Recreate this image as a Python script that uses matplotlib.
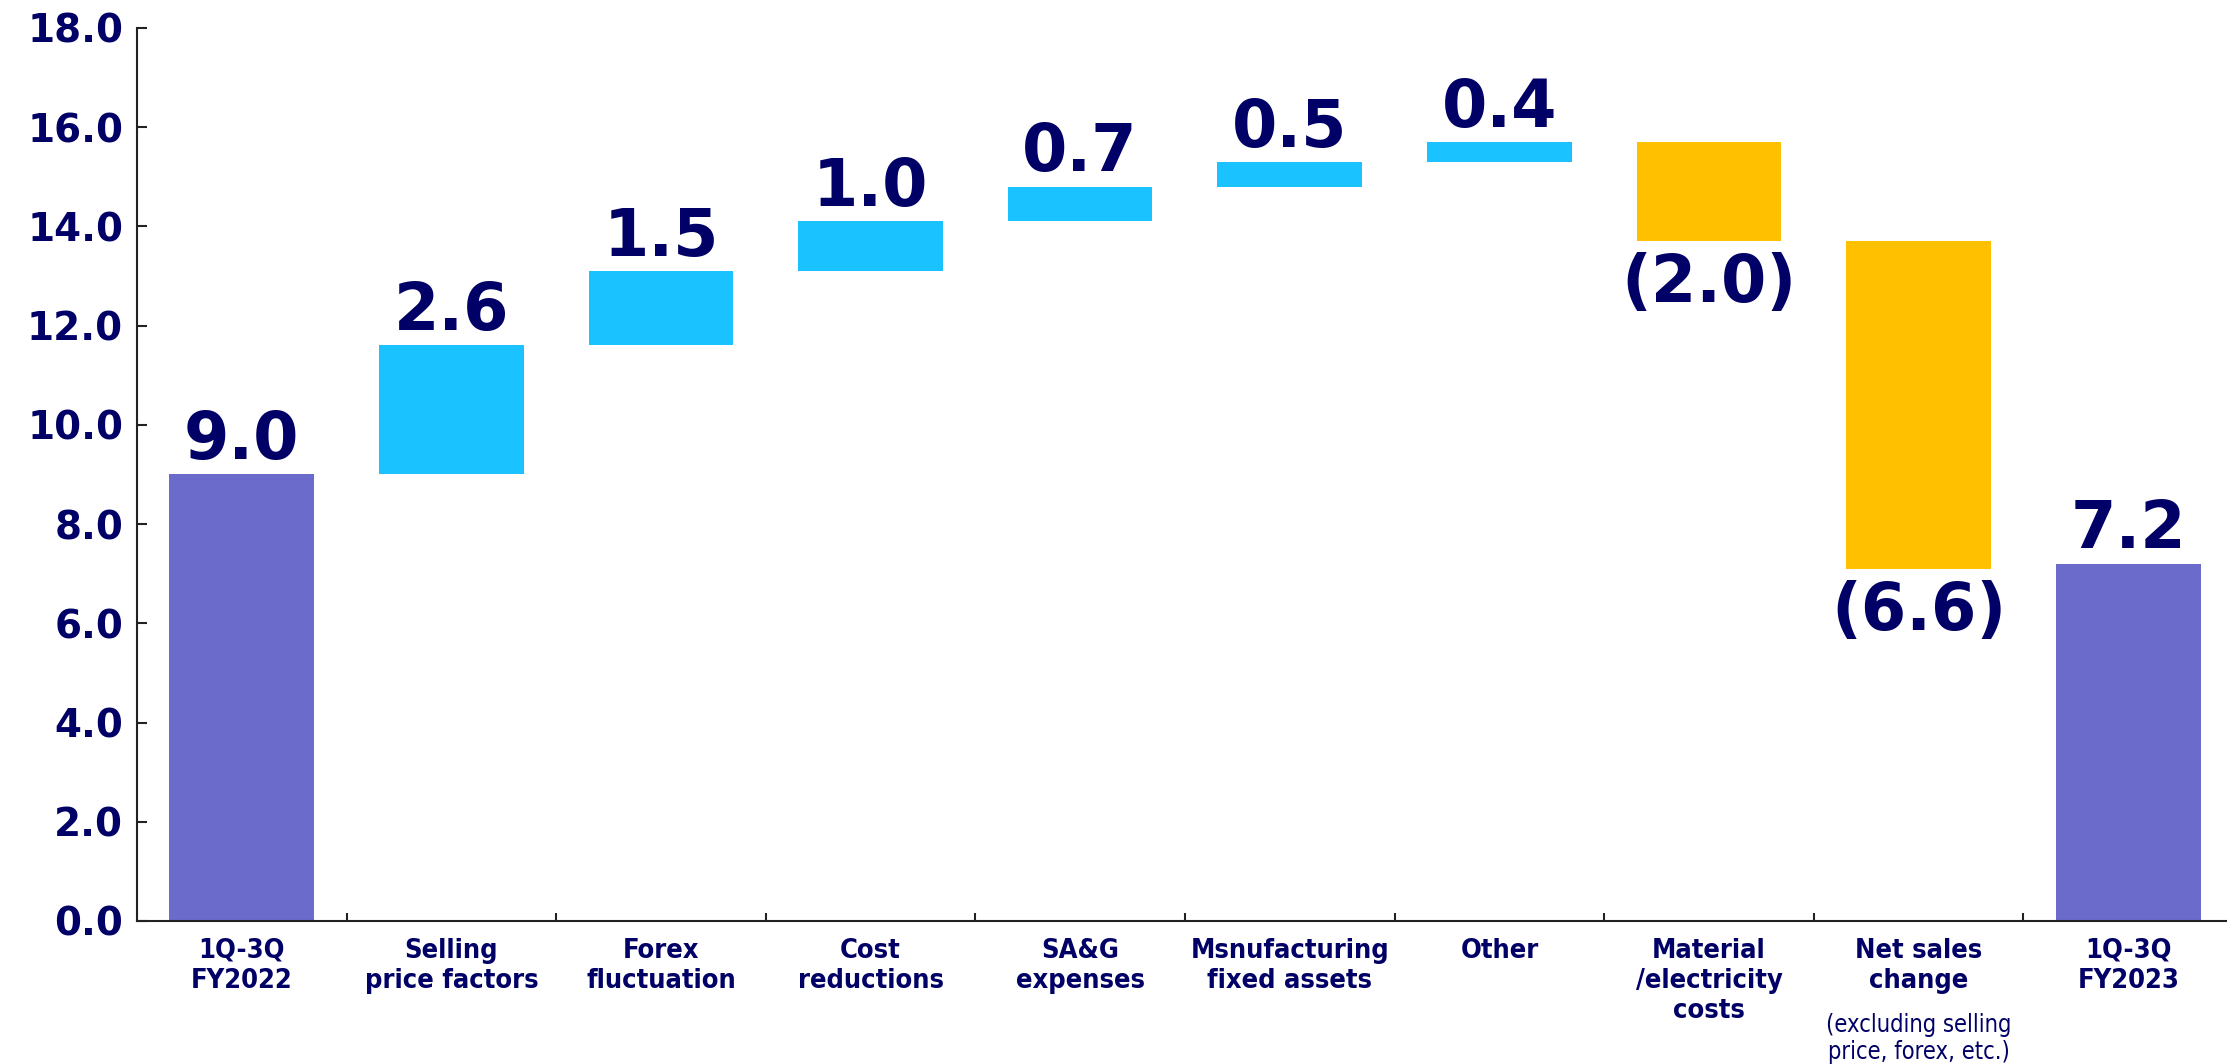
import numpy as np
import matplotlib.pyplot as plt
import matplotlib.transforms as mtransforms

# Operating profit bridge, 1Q-3Q FY2022 -> 1Q-3Q FY2023
categories = [
    "1Q-3Q\nFY2022",
    "Selling\nprice factors",
    "Forex\nfluctuation",
    "Cost\nreductions",
    "SA&G\nexpenses",
    "Msnufacturing\nfixed assets",
    "Other",
    "Material\n/electricity\ncosts",
    "Net sales\nchange",
    "1Q-3Q\nFY2023",
]
start_value = 9.0
changes = [2.6, 1.5, 1.0, 0.7, 0.5, 0.4, -2.0, -6.6]
end_value = 7.2
y_ticks = [0, 2, 4, 6, 8, 10, 12, 14, 16, 18]
net_sales_note = "(excluding selling\nprice, forex, etc.)"

NAVY = "#000066"
TOTAL_COLOR = "#6B6BCC"
UP_COLOR = "#1AC3FF"
DOWN_COLOR = "#FFC000"

# floating bars: bottom and height for each step
running = start_value
bottoms, heights, colors = [0.0], [start_value], [TOTAL_COLOR]
for ch in changes:
    bottoms.append(min(running, running + ch))
    heights.append(abs(ch))
    colors.append(UP_COLOR if ch > 0 else DOWN_COLOR)
    running += ch
bottoms.append(0.0)
heights.append(end_value)
colors.append(TOTAL_COLOR)
values = [start_value] + changes + [end_value]

fig = plt.figure(figsize=(22.27, 10.64), dpi=100)
ax = fig.add_axes([0.0615, 0.1344, 0.9412, 0.8393])

x = np.arange(len(categories))
ax.bar(x, heights, bottom=bottoms, width=0.69, color=colors, zorder=2)

for xi, b, h, v in zip(x, bottoms, heights, values):
    if v >= 0:
        ax.annotate(f"{v:.1f}", (xi, b + h), xytext=(0, 1), textcoords="offset points",
                    ha="center", va="bottom", fontsize=47, fontweight="bold", color=NAVY)
    else:
        ax.annotate(f"({abs(v):.1f})", (xi, b), xytext=(0, -8), textcoords="offset points",
                    ha="center", va="top", fontsize=47, fontweight="bold", color=NAVY)

ax.set_xlim(-0.5, len(categories) - 0.5)
ax.set_ylim(0, 18)
ax.set_yticks(y_ticks)
ax.set_yticklabels([f"{t:.1f}" for t in y_ticks])

# category boundaries carry the tick marks, labels sit at the centres
ax.set_xticks(x[:-1] + 0.5)
ax.set_xticklabels([])
ax.set_xticks(x, minor=True)
ax.set_xticklabels(categories, minor=True, fontweight="bold", fontstretch="condensed",
                   fontsize=19.5, color=NAVY, linespacing=1.2, va="top")
ax.tick_params(axis="x", which="major", direction="in", length=6, width=1.5, color="#222222")
ax.tick_params(axis="x", which="minor", length=0, pad=12)
ax.tick_params(axis="y", direction="in", length=7, width=1.5, color="#222222",
               labelsize=28, labelcolor=NAVY, pad=10)
for lbl in ax.get_yticklabels():
    lbl.set_fontweight("bold")

for side in ["top", "right"]:
    ax.spines[side].set_visible(False)
for side in ["left", "bottom"]:
    ax.spines[side].set_linewidth(1.5)
    ax.spines[side].set_color("#222222")

trans = mtransforms.blended_transform_factory(ax.transData, ax.transAxes)
ax.text(8, -0.103, net_sales_note, transform=trans, ha="center", va="top",
        fontstretch="condensed", fontsize=17, color=NAVY, linespacing=1.15)

fig.savefig("out.png", dpi=100)
